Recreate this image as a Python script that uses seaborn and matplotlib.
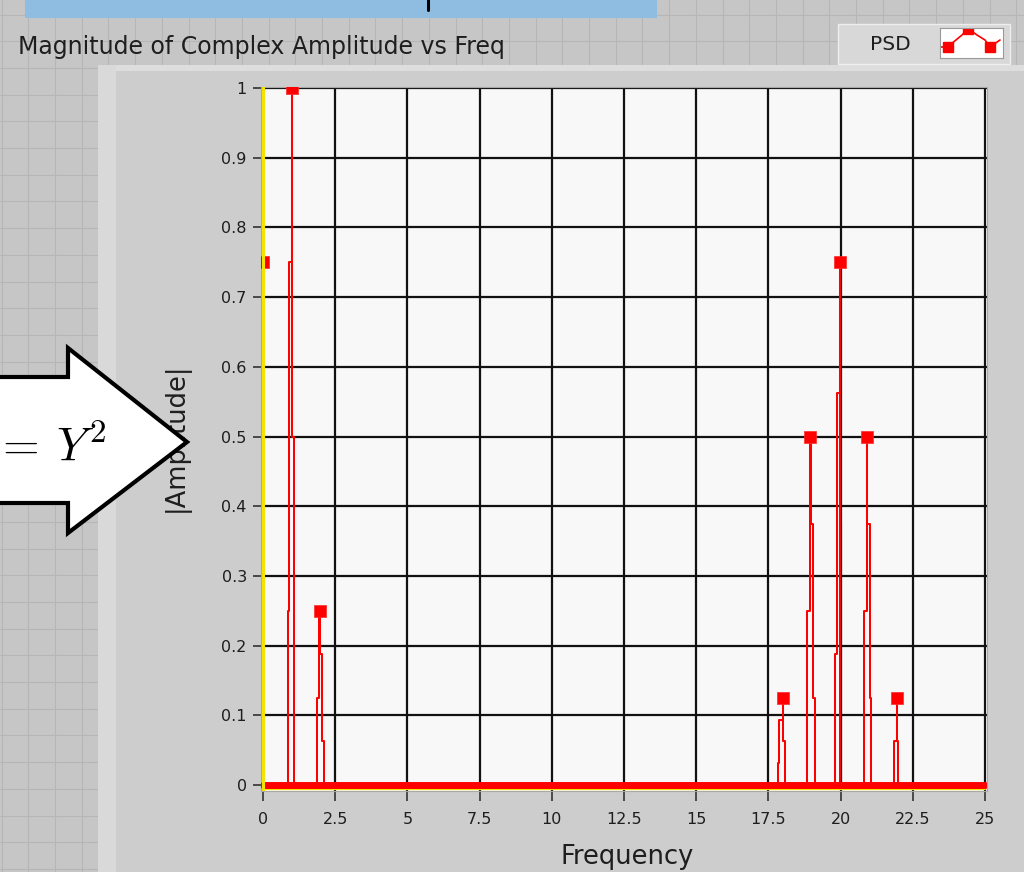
import numpy as np
import pandas as pd
import matplotlib
matplotlib.use("Agg")
import matplotlib.pyplot as plt
import matplotlib.patches as mpatches
import matplotlib.transforms as mtransforms
from matplotlib.lines import Line2D
import seaborn as sns

# ---- data -------------------------------------------------------------
# PSD trace: frequency (Hz) and |amplitude|, drawn as one polyline
trace_freq = [
    0.00, 0.00, 0.04, 0.04,
    0.85, 0.85, 0.91, 0.91, 0.99, 0.99, 0.99, 1.08, 1.08,
    1.86, 1.86, 1.95, 1.95, 1.97, 1.97, 2.03, 2.03, 2.11, 2.11,
    17.83, 17.83, 17.88, 17.88, 17.99, 17.99, 17.99, 18.07, 18.07,
    18.85, 18.85, 18.94, 18.94, 18.96, 18.96, 19.03, 19.03, 19.11, 19.11,
    19.81, 19.81, 19.88, 19.88, 19.98, 19.98, 19.98,
    20.81, 20.81, 20.90, 20.90, 20.92, 20.92, 21.01, 21.01, 21.07, 21.07,
    21.85, 21.85, 21.94, 21.94, 21.94, 22.00, 22.00,
    25.00,
]
trace_amp = [
    0.75, 0.375, 0.375, 0.0,
    0.0, 0.25, 0.25, 0.75, 0.75, 1.0, 0.5, 0.5, 0.0,
    0.0, 0.125, 0.125, 0.25, 0.25, 0.1875, 0.1875, 0.0625, 0.0625, 0.0,
    0.0, 0.03125, 0.03125, 0.09375, 0.09375, 0.125, 0.0625, 0.0625, 0.0,
    0.0, 0.25, 0.25, 0.5, 0.5, 0.375, 0.375, 0.125, 0.125, 0.0,
    0.0, 0.1875, 0.1875, 0.5625, 0.5625, 0.75, 0.0,
    0.0, 0.25, 0.25, 0.5, 0.5, 0.375, 0.375, 0.125, 0.125, 0.0,
    0.0, 0.0625, 0.0625, 0.125, 0.0625, 0.0625, 0.0,
    0.0,
]
# spectral lines (square point markers)
peak_freq = [0.0, 0.99, 1.97, 17.99, 18.94, 19.98, 20.90, 21.94]
peak_amp = [0.75, 1.0, 0.25, 0.125, 0.5, 0.75, 0.5, 0.125]
# short black segment at 20 Hz
black_freq = [20.03, 20.03]
black_amp = [0.0, 0.375]

x_ticks = [0, 2.5, 5, 7.5, 10, 12.5, 15, 17.5, 20, 22.5, 25]
x_tick_labels = ["0", "2.5", "5", "7.5", "10", "12.5", "15", "17.5", "20", "22.5", "25"]
y_ticks = [0, 0.1, 0.2, 0.3, 0.4, 0.5, 0.6, 0.7, 0.8, 0.9, 1.0]
y_tick_labels = ["0", "0.1", "0.2", "0.3", "0.4", "0.5", "0.6", "0.7", "0.8", "0.9", "1"]

trace = pd.DataFrame({"freq": trace_freq, "amp": trace_amp})
peaks = pd.DataFrame({"freq": peak_freq, "amp": peak_amp})

# ---- figure -----------------------------------------------------------
sns.set_theme(style="white")
plt.rcParams["font.family"] = ["DejaVu Sans"]

W, H = 1024, 872


def fx(px):
    return px / W


def fy(py):
    return 1 - py / H


fig = plt.figure(figsize=(W / 100, H / 100), dpi=100, facecolor="#c6c6c6")

# front-panel alignment grid
for gx in np.arange(1.6, W, 26.7):
    fig.add_artist(Line2D([fx(gx)] * 2, [0, 1], color="#b6b6b6", lw=0.75, zorder=-6))
for gy in np.arange(14.6, H, 26.7):
    fig.add_artist(Line2D([0, 1], [fy(gy)] * 2, color="#b6b6b6", lw=0.75, zorder=-6))

# blue title bar at the top
fig.add_artist(mpatches.Rectangle((fx(25), fy(18)), 632 / W, 18 / H,
                                  transform=fig.transFigure, facecolor="#8fbde1",
                                  edgecolor="none", zorder=-4))
fig.add_artist(Line2D([fx(428)] * 2, [fy(0), fy(10)], color="black", lw=2.2, zorder=-3))

# graph panel with bevel
fig.add_artist(mpatches.Rectangle((fx(98), 0), (W - 98) / W, (H - 65) / H,
                                  transform=fig.transFigure, facecolor="#cdcdcd",
                                  edgecolor="none", zorder=-4))
fig.add_artist(mpatches.Rectangle((fx(98), fy(71)), (W - 98) / W, 6 / H,
                                  transform=fig.transFigure, facecolor="#dddddd",
                                  edgecolor="none", zorder=-3))
fig.add_artist(mpatches.Rectangle((fx(98), 0), 18 / W, (H - 65) / H,
                                  transform=fig.transFigure, facecolor="#d9d9d9",
                                  edgecolor="none", zorder=-3))

# graph caption
fig.text(fx(18), fy(47), "Magnitude of Complex Amplitude vs Freq", fontsize=17,
         color="#1e1e1e", ha="left", va="center")

# plot legend box
fig.add_artist(mpatches.Rectangle((fx(838), fy(64)), 172 / W, 40 / H,
                                  transform=fig.transFigure, facecolor="#d8d8d8",
                                  edgecolor="#eeeeee", lw=1.0, zorder=-2))
fig.text(fx(890), fy(44), "PSD", fontsize=14.5, color="#1e1e1e", ha="center", va="center")
icon = fig.add_axes([fx(940), fy(58), 63 / W, 30 / H])
icon.set_facecolor("white")
icon.set_xlim(0, 63)
icon.set_ylim(30, 0)
icon.plot([0, 7.5, 22, 28, 37, 45, 50, 60], [19, 19, 7, 0.7, 7, 12, 19, 12],
          color="#ff0000", lw=1.2)
icon.plot([7.5, 28, 50], [19, 0.7, 19], ls="none", marker="s", ms=6.5, color="#ff0000")
icon.set_xticks([])
icon.set_yticks([])
for s in icon.spines.values():
    s.set_color("#9a9a9a")
    s.set_linewidth(0.8)

# ---- main graph -------------------------------------------------------
ax_left, ax_right, ax_top, ax_bottom = 260.7, 987.0, 87.0, 791.0
ax = fig.add_axes([fx(ax_left), fy(ax_bottom), (ax_right - ax_left) / W,
                   (ax_bottom - ax_top) / H])
ax.set_facecolor("#f8f8f8")

sns.lineplot(data=trace, x="freq", y="amp", sort=False, estimator=None,
             color="#ff0000", lw=1.45, ax=ax, zorder=3)
# zero-level band of stacked point markers
sns.lineplot(x=[trace_freq[0], trace_freq[-1]], y=[0, 0], color="#ff0000",
             lw=5.0, ax=ax, zorder=3.2)
sns.scatterplot(data=peaks, x="freq", y="amp", marker="s", s=68, color="#ff0000",
                edgecolor="#ff2a2a", linewidth=0.5, ax=ax, zorder=4)
sns.lineplot(x=black_freq, y=black_amp, color="#111111", lw=2.6, ax=ax, zorder=4.5)

# yellow axis cursor lines
ax.axvline(0, color="#f2e400", lw=2.2, zorder=5)
low_shift = mtransforms.offset_copy(ax.transData, fig=fig, y=-3.5, units="dots")
ax.plot([trace_freq[0], trace_freq[-1]], [0, 0], color="#f2e400", lw=1.6,
        transform=low_shift, zorder=3.0)

ax.set_xlim(-0.08, 25.07)
ax.set_ylim(-0.0086, 1.0015)
ax.set_xticks(x_ticks)
ax.set_xticklabels(x_tick_labels)
ax.set_yticks(y_ticks)
ax.set_yticklabels(y_tick_labels)
ax.set_axisbelow(True)
ax.grid(True, color="#111111", lw=1.6)
ax.tick_params(axis="both", direction="out", length=6, width=1.2, color="#333333",
               labelsize=11.5, labelcolor="#1e1e1e", pad=4)
ax.tick_params(axis="x", length=7, pad=8)
ax.tick_params(bottom=True, left=True)
for s in ax.spines.values():
    s.set_color("#a8a8a8")
    s.set_linewidth(0.8)

ax.set_xlabel("Frequency", fontsize=18.5, color="#1e1e1e", va="center", ha="center")
ax.set_ylabel("|Amplitude|", fontsize=18.5, color="#1e1e1e", va="center", ha="center")
ax.xaxis.set_label_coords(0.504, -0.094)
ax.yaxis.set_label_coords(-0.1166, 0.503)

# ---- arrow with equation ---------------------------------------------
arrow_px = [(-10, 377), (68, 377), (68, 348), (187, 442), (68, 533), (68, 503), (-10, 503)]
arrow = mpatches.Polygon([(fx(x), fy(y)) for x, y in arrow_px], closed=True,
                         transform=fig.transFigure, facecolor="white",
                         edgecolor="black", lw=3.0, joinstyle="miter", zorder=10)
fig.add_artist(arrow)
fig.text(fx(1), fy(460), r"$\!{=}\:Y^2$", fontsize=34, math_fontfamily="cm",
         ha="left", va="baseline", color="black", zorder=11)

fig.savefig("out.png", dpi=100, facecolor=fig.get_facecolor())
